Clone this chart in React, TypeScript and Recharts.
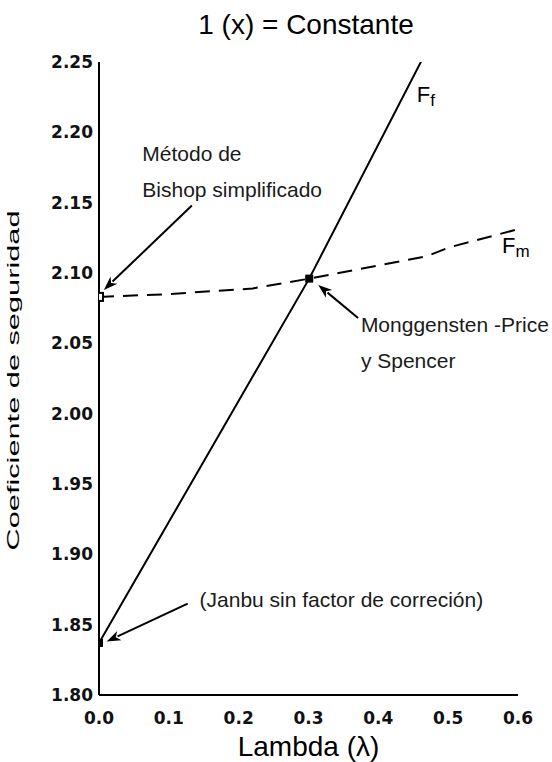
import React from 'react';
import {
  ComposedChart,
  Line,
  Scatter,
  XAxis,
  YAxis,
  ReferenceLine,
  ReferenceDot,
  Label,
} from 'recharts';

// ---- data ----
const xTicks = [0, 0.1, 0.2, 0.3, 0.4, 0.5, 0.6];
const yTicks = [1.8, 1.85, 1.9, 1.95, 2.0, 2.05, 2.1, 2.15, 2.2, 2.25];

const ffLambda = [0, 0.301, 0.464];
const ffValues = [1.837, 2.096, 2.253];

const fmLambda = [0, 0.1, 0.22, 0.301, 0.47, 0.5, 0.599];
const fmValues = [2.083, 2.085, 2.089, 2.096, 2.112, 2.118, 2.131];

const markerLambda = [0, 0, 0.301];
const markerValues = [2.083, 1.837, 2.096];
const markerKinds = ['open', 'filled', 'filled'];

const noteLines = [
  ['Método de', 'Bishop simplificado'],
  ['Monggensten -Price', 'y Spencer'],
  ['(Janbu sin factor de correción)'],
];
const noteX = [0.062, 0.375, 0.144];
const noteY = [2.1798, 2.058, 1.8626];

const arrowTailX = [0.133, 0.371, 0.127];
const arrowTailY = [2.148, 2.068, 1.865];
const arrowHeadX = [0.007, 0.314, 0.011];
const arrowHeadY = [2.088, 2.0915, 1.838];

const seriesLabels = [
  { main: 'F', sub: 'f', x: 0.455, y: 2.2216 },
  { main: 'F', sub: 'm', x: 0.577, y: 2.114 },
];

const titleText = '1 (x) = Constante';
const xLabelText = 'Lambda (λ)';
const yLabelText = 'Coeficiente de seguridad';

const ffData = ffLambda.map((x, i) => ({ x, y: ffValues[i] }));
const fmData = fmLambda.map((x, i) => ({ x, y: fmValues[i] }));
const markerData = markerLambda.map((x, i) => ({ x, y: markerValues[i], kind: markerKinds[i] }));

const TEXT_FONT = '"Liberation Sans", Arial, sans-serif';
const TICK_FONT = '"DejaVu Sans", sans-serif';

const MarkerShape = (p: any) => {
  const { cx, cy, payload } = p;
  const s = 8;
  if (payload && payload.kind === 'open') {
    return <rect x={cx - s / 2} y={cy - s / 2} width={s} height={s} fill="#fff" stroke="#000" strokeWidth={2} />;
  }
  return <rect x={cx - s / 2} y={cy - s / 2} width={s} height={s} fill="#000" />;
};

const ArrowShape = (p: any) => {
  const x1 = Number(p.x1), y1 = Number(p.y1), x2 = Number(p.x2), y2 = Number(p.y2);
  const dx = x2 - x1, dy = y2 - y1;
  const len = Math.hypot(dx, dy) || 1;
  const ux = dx / len, uy = dy / len;
  const hl = 14, hw = 5;
  const bx = x2 - ux * hl, by = y2 - uy * hl;
  const pts = `${x2},${y2} ${bx - uy * hw},${by + ux * hw} ${bx + ux * 4},${by + uy * 4} ${bx + uy * hw},${by - ux * hw}`;
  return (
    <g>
      <line x1={x1} y1={y1} x2={bx + ux * 2} y2={by + uy * 2} stroke="#000" strokeWidth={2} />
      <polygon points={pts} fill="#000" />
    </g>
  );
};

const makeNoteShape = (lines: string[]) => (p: any) => (
  <text x={p.cx} y={p.cy} fontFamily={TEXT_FONT} fontSize={21} fill="#1a1a1a">
    {lines.map((l, i) => (
      <tspan key={i} x={p.cx} dy={i === 0 ? 0 : 36}>
        {l}
      </tspan>
    ))}
  </text>
);

const makeSeriesLabel = (main: string, sub: string) => (p: any) => (
  <text x={p.cx} y={p.cy} fontFamily={TEXT_FONT} fontSize={22} fill="#000">
    {main}
    <tspan dy={4} fontSize={17}>
      {sub}
    </tspan>
  </text>
);

const YLabel = (p: any) => {
  const vb = p.viewBox || { x: 0, y: 62, width: 99, height: 633 };
  const cx = 13;
  const cy = vb.y + vb.height / 2 + 2;
  return (
    <text
      x={cx}
      y={cy}
      transform={`rotate(-90 ${cx} ${cy})`}
      textAnchor="middle"
      dominantBaseline="central"
      fontFamily={TEXT_FONT}
      fontSize={16}
      textLength={340}
      lengthAdjust="spacingAndGlyphs"
      fill="#000"
    >
      {yLabelText}
    </text>
  );
};

const XLabel = (p: any) => {
  const vb = p.viewBox || { x: 99, y: 695, width: 419, height: 67 };
  return (
    <text x={vb.x + vb.width / 2} y={756} textAnchor="middle" fontFamily={TEXT_FONT} fontSize={28} fill="#000">
      {xLabelText}
    </text>
  );
};

export default function App() {
  return (
    <div style={{ position: 'absolute', left: 0, top: 0, width: 552, height: 762, background: '#fff' }}>
      <svg width={552} height={50} style={{ position: 'absolute', left: 0, top: 0 }}>
        <text x={306} y={34} textAnchor="middle" fontFamily={TEXT_FONT} fontSize={28} fill="#000">
          {titleText}
        </text>
      </svg>
      <div style={{ position: 'absolute', left: 0, top: 0 }}>
        <ComposedChart width={552} height={762} margin={{ top: 62, right: 34, bottom: 0, left: 0 }}>
          <XAxis
            type="number"
            dataKey="x"
            domain={[0, 0.6]}
            ticks={xTicks}
            tickFormatter={(v: number) => v.toFixed(1)}
            height={67}
            axisLine={{ stroke: '#000', strokeWidth: 2 }}
            tickLine={false}
            tickMargin={11}
            tick={{ fill: '#111', fontSize: 17, fontFamily: TICK_FONT, fontWeight: 'bold' }}
            allowDataOverflow
          >
            <Label content={XLabel} />
          </XAxis>
          <YAxis
            type="number"
            dataKey="y"
            domain={[1.8, 2.25]}
            ticks={yTicks}
            tickFormatter={(v: number) => v.toFixed(2)}
            width={99}
            axisLine={{ stroke: '#000', strokeWidth: 2 }}
            tickLine={false}
            tickMargin={0}
            tick={{ fill: '#111', fontSize: 17, fontFamily: TICK_FONT, fontWeight: 'bold' }}
            allowDataOverflow
          >
            <Label content={YLabel} />
          </YAxis>
          <Line
            data={fmData}
            dataKey="y"
            type="linear"
            stroke="#000"
            strokeWidth={2}
            strokeDasharray="15 9"
            dot={false}
            activeDot={false}
            isAnimationActive={false}
          />
          <Line
            data={ffData}
            dataKey="y"
            type="linear"
            stroke="#000"
            strokeWidth={2}
            dot={false}
            activeDot={false}
            isAnimationActive={false}
          />
          <Scatter data={markerData} dataKey="y" shape={MarkerShape} isAnimationActive={false} />
          {arrowTailX.map((_, i) => (
            <ReferenceLine
              key={`ar${i}`}
              segment={[
                { x: arrowTailX[i], y: arrowTailY[i] },
                { x: arrowHeadX[i], y: arrowHeadY[i] },
              ]}
              ifOverflow="visible"
              shape={ArrowShape}
            />
          ))}
          {noteLines.map((lines, i) => (
            <ReferenceDot
              key={`nt${i}`}
              x={noteX[i]}
              y={noteY[i]}
              r={1}
              ifOverflow="visible"
              shape={makeNoteShape(lines)}
            />
          ))}
          {seriesLabels.map((s, i) => (
            <ReferenceDot
              key={`sl${i}`}
              x={s.x}
              y={s.y}
              r={1}
              ifOverflow="visible"
              shape={makeSeriesLabel(s.main, s.sub)}
            />
          ))}
        </ComposedChart>
      </div>
    </div>
  );
}
